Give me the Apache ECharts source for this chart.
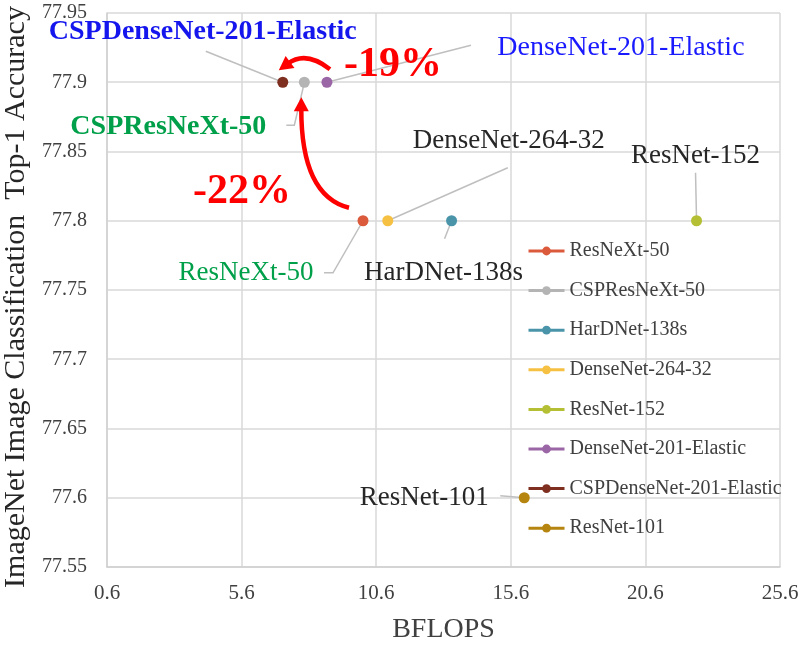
<!DOCTYPE html>
<html lang="en">
<head>
<meta charset="UTF-8">
<title>BFLOPS vs Top-1 Accuracy</title>
<script src="https://cdn.jsdelivr.net/npm/echarts@6/dist/echarts.min.js"></script>
<style>
html, body { margin: 0; padding: 0; background: #fff; }
#main { width: 800px; height: 645px; }
</style>
</head>
<body>
<div id="main"></div>
<script>
// data
var modelNames = ['ResNeXt-50', 'CSPResNeXt-50', 'HarDNet-138s', 'DenseNet-264-32',
    'ResNet-152', 'DenseNet-201-Elastic', 'CSPDenseNet-201-Elastic', 'ResNet-101'];
var bflops = [10.11, 7.93, 13.4, 11.03, 22.5, 8.77, 7.13, 16.1];
var top1Acc = [77.8, 77.9, 77.8, 77.8, 77.8, 77.9, 77.9, 77.6];
var notes = ['-19%', '-22%'];

var colors = ['#dc5a3c', '#b4b4b4', '#4a94aa', '#f6c142', '#b4bf33', '#9b66a6', '#7e2f1f', '#b5850f'];
var FONT = '"Liberation Serif", "DejaVu Serif", serif';

// label offset from its point, and the leader line (pixel offsets from the point)
var labelCfg = [
    { dx: -117, dy: 52, color: '#00a04a', weight: 'normal', size: 27, lead: [[-30, 52], [-39, 52]] },
    { dx: -136, dy: 45, color: '#00a04a', weight: 'bold', size: 28, lead: [[-2, 9], [-10, 43], [-18, 43]] },
    { dx: -8,   dy: 52, color: '#262626', weight: 'normal', size: 27, lead: [[-7, 18]] },
    { dx: 121,  dy: -80, color: '#262626', weight: 'normal', size: 27, lead: [[120, -53]] },
    { dx: -1,   dy: -65, color: '#262626', weight: 'normal', size: 27, lead: [[-1, -48]] },
    { dx: 294,  dy: -35, color: '#1a1aff', weight: 'normal', size: 28, lead: [[144, -37]] },
    { dx: -80,  dy: -50, color: '#1515ee', weight: 'bold', size: 28, lead: [[-77, -31]] },
    { dx: -100, dy: 0,   color: '#262626', weight: 'normal', size: 27, lead: [[-24, -2]] }
];

var series = modelNames.map(function (name, i) {
    return {
        name: name,
        type: 'line',
        z: 3,
        symbol: 'circle',
        symbolSize: 11,
        showSymbol: true,
        itemStyle: { color: colors[i] },
        lineStyle: { color: colors[i], width: 3 },
        label: {
            show: true,
            position: 'inside',
            formatter: '{a}',
            fontFamily: FONT,
            fontSize: labelCfg[i].size,
            fontWeight: labelCfg[i].weight,
            color: labelCfg[i].color
        },
        labelLayout: { dx: labelCfg[i].dx, dy: labelCfg[i].dy },
        emphasis: { disabled: true },
        data: [[bflops[i], top1Acc[i]]]
    };
});

var chart = echarts.init(document.getElementById('main'));
chart.setOption({
    backgroundColor: '#fff',
    animation: false,
    color: colors,
    grid: { left: 107, right: 20, top: 13, bottom: 78, outerBoundsMode: 'none', containLabel: false },
    legend: {
        orient: 'vertical',
        left: 522,
        top: 236,
        itemWidth: 36,
        itemHeight: 11,
        itemGap: 19.6,
        data: modelNames,
        lineStyle: { width: 3 },
        textStyle: { fontFamily: FONT, fontSize: 20, lineHeight: 20, color: '#404040' }
    },
    xAxis: {
        type: 'value',
        min: 0.6,
        max: 25.6,
        interval: 5,
        name: 'BFLOPS',
        nameLocation: 'middle',
        nameGap: 49,
        nameTextStyle: { fontFamily: FONT, fontSize: 28, color: '#404040' },
        axisLine: { show: true, lineStyle: { color: '#d0d0d0', width: 1.5 } },
        axisTick: { show: false },
        axisLabel: {
            fontFamily: FONT, fontSize: 21, color: '#404040', margin: 16,
            formatter: function (v) { return v.toFixed(1); }
        },
        splitLine: { show: true, lineStyle: { color: '#d9d9d9', width: 1.5 } }
    },
    yAxis: {
        type: 'value',
        min: 77.55,
        max: 77.95,
        interval: 0.05,
        name: 'ImageNet Image Classification  Top-1 Accuracy',
        nameLocation: 'middle',
        nameGap: 66,
        nameTextStyle: { fontFamily: FONT, fontSize: 30, color: '#262626', padding: [0, 14, 0, 0] },
        axisLine: { show: true, lineStyle: { color: '#d0d0d0', width: 1.5 } },
        axisTick: { show: false },
        axisLabel: {
            fontFamily: FONT, fontSize: 20, color: '#404040', margin: 20,
            formatter: function (v) { return String(Math.round(v * 100) / 100); }
        },
        splitLine: { show: true, lineStyle: { color: '#d9d9d9', width: 1.5 } }
    },
    series: series
});

// leader lines, red arrows and percentages, placed from the data points
function px(i) {
    return chart.convertToPixel({ gridIndex: 0 }, [bflops[i], top1Acc[i]]);
}
var pRX = px(0), pCRX = px(1), pDE = px(5), pCDE = px(6);

function arrow(start, ctrl, end) {
    var dx = end[0] - ctrl[0], dy = end[1] - ctrl[1];
    var len = Math.sqrt(dx * dx + dy * dy);
    var ux = dx / len, uy = dy / len;
    var headL = 14, headW = 7.5;
    var base = [end[0] - ux * headL, end[1] - uy * headL];
    var lineEnd = [end[0] - ux * (headL - 3), end[1] - uy * (headL - 3)];
    return [{
        type: 'bezierCurve',
        shape: { x1: start[0], y1: start[1], cpx1: ctrl[0], cpy1: ctrl[1], x2: lineEnd[0], y2: lineEnd[1] },
        style: { stroke: '#ff0000', lineWidth: 4.5, fill: null },
        z: 100
    }, {
        type: 'polygon',
        shape: { points: [end, [base[0] - uy * headW, base[1] + ux * headW], [base[0] + uy * headW, base[1] - ux * headW]] },
        style: { fill: '#ff0000' },
        z: 100
    }];
}

var g = [];
modelNames.forEach(function (name, i) {
    var p = px(i);
    var pts = [[p[0], p[1]]].concat(labelCfg[i].lead.map(function (o) {
        return [p[0] + o[0], p[1] + o[1]];
    }));
    g.push({
        type: 'polyline',
        shape: { points: pts },
        style: { stroke: '#bfbfbf', lineWidth: 1.5, fill: null },
        z: 1
    });
});
g = g.concat(arrow([pDE[0] + 3, pDE[1] - 13], [pDE[0] - 21, pDE[1] - 32], [pCDE[0] - 4, pCDE[1] - 12]));
g = g.concat(arrow([pRX[0] - 14, pRX[1] - 13], [pRX[0] - 62, pRX[1] - 25], [pCRX[0] - 3, pCRX[1] + 15]));
g.push({
    type: 'text', x: pDE[0] + 66, y: pDE[1] - 17, z: 100,
    style: { text: notes[0], fill: '#ff0000', font: 'bold 42px ' + FONT, textAlign: 'center', textVerticalAlign: 'middle' }
});
g.push({
    type: 'text', x: pRX[0] - 121, y: pRX[1] - 29, z: 100,
    style: { text: notes[1], fill: '#ff0000', font: 'bold 42px ' + FONT, textAlign: 'center', textVerticalAlign: 'middle' }
});
chart.setOption({ graphic: { elements: g } });
</script>
</body>
</html>
